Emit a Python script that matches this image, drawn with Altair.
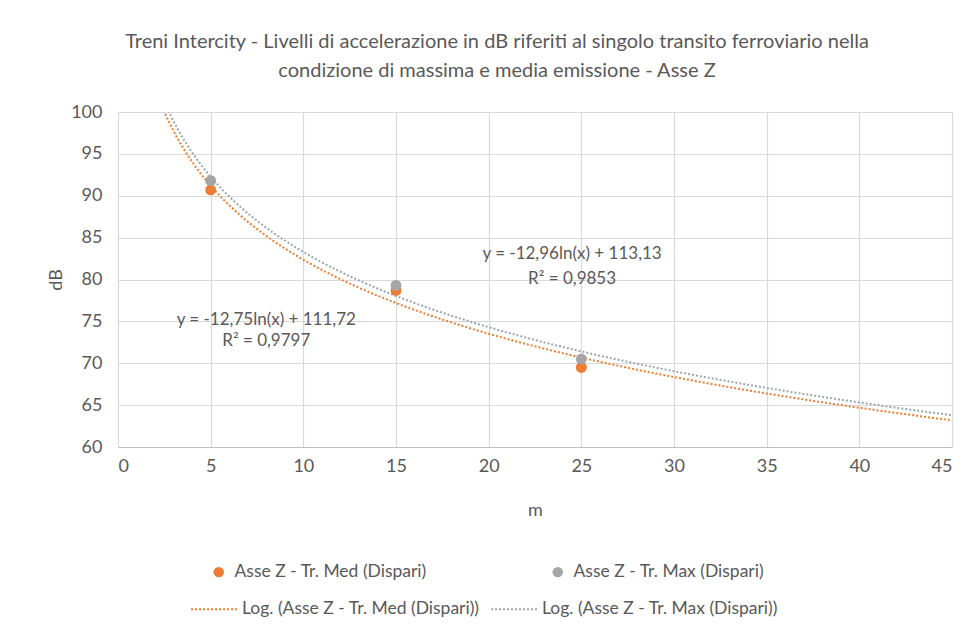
import altair as alt
import pandas as pd

# Measured acceleration levels (dB) at each distance from the track (m)
distances = [5, 15, 25]
med_db = [90.7, 78.7, 69.5]
max_db = [91.8, 79.3, 70.5]

point_series = ["Asse Z - Tr. Med (Dispari)", "Asse Z - Tr. Max (Dispari)"]
trend_series = ["Log. (Asse Z - Tr. Med (Dispari))", "Log. (Asse Z - Tr. Max (Dispari))"]

# Logarithmic trend lines: y = slope * ln(x) + intercept
trend_slope = [-12.75, -12.96]
trend_intercept = [111.72, 113.13]
trend_r2 = [0.9797, 0.9853]

x_ticks = [0, 5, 10, 15, 20, 25, 30, 35, 40, 45]
y_ticks = [60, 65, 70, 75, 80, 85, 90, 95, 100]

ORANGE = "#ED7D31"
GREY = "#A5A5A5"
GREY_TREND = "#9DA5B0"
TEXT = "#595959"
FONT = "Lato"

points = pd.DataFrame({
    "m": distances * 2,
    "dB": med_db + max_db,
    "serie": [point_series[0]] * 3 + [point_series[1]] * 3,
})

def it_num(v, nd=2):
    return f"{v:.{nd}f}".replace(".", ",")

# Equation labels placed next to each trend line (position in data units)
labels = pd.DataFrame({
    "m": [8.0, 8.0, 24.5, 24.5],
    "dB": [75.2, 72.6, 83.0, 80.1],
    "txt": [
        f"y = {it_num(trend_slope[0])}ln(x) + {it_num(trend_intercept[0])}",
        f"R² = {it_num(trend_r2[0], 4)}",
        f"y = {it_num(trend_slope[1])}ln(x) + {it_num(trend_intercept[1])}",
        f"R² = {it_num(trend_r2[1], 4)}",
    ],
})

x_scale = alt.Scale(domain=[0, 45], nice=False, zero=False)
y_scale = alt.Scale(domain=[60, 100], nice=False, zero=False)

x_enc = alt.X("m:Q", scale=x_scale, title="m",
              axis=alt.Axis(values=x_ticks, grid=True, ticks=False, labelPadding=10,
                            titlePadding=26, domainColor="#BFBFBF"))
y_enc = alt.Y("dB:Q", scale=y_scale, title="dB",
              axis=alt.Axis(values=y_ticks, grid=True, ticks=False, labelPadding=16,
                            titlePadding=5, domain=False))

trend = (
    alt.Chart(alt.sequence(2.0, 45.01, 0.1, as_="m"))
    .transform_calculate(
        med=f"{trend_slope[0]} * log(datum.m) + {trend_intercept[0]}",
        mx=f"{trend_slope[1]} * log(datum.m) + {trend_intercept[1]}",
    )
    .transform_fold(["med", "mx"], as_=["key", "dB"])
    .transform_calculate(
        trend=f"datum.key == 'med' ? '{trend_series[0]}' : '{trend_series[1]}'"
    )
    .mark_line(strokeDash=[2, 2], strokeWidth=2, clip=True)
    .encode(
        x=x_enc,
        y=y_enc,
        detail="trend:N",
        color=alt.Color(
            "trend:N",
            scale=alt.Scale(domain=trend_series, range=[ORANGE, GREY_TREND]),
            legend=alt.Legend(
                title=None, orient="none", direction="horizontal",
                legendX=72, legendY=473, symbolType="stroke", symbolSize=2100,
                symbolDash=[2, 2], symbolStrokeWidth=2, labelOffset=4,
                columnPadding=7, labelFontSize=17.5, labelFont=FONT,
                labelColor=TEXT, labelLimit=400,
            ),
        ),
    )
)

dots = (
    alt.Chart(points)
    .mark_circle(size=120, opacity=1)
    .encode(
        x=x_enc,
        y=y_enc,
        color=alt.Color(
            "serie:N",
            scale=alt.Scale(domain=point_series, range=[ORANGE, GREY]),
            legend=alt.Legend(
                title=None, orient="none", direction="horizontal",
                legendX=92, legendY=451, symbolType="circle", symbolSize=110,
                labelOffset=7, columnPadding=122, labelFontSize=17.5,
                labelFont=FONT, labelColor=TEXT, labelLimit=400,
            ),
        ),
        order=alt.Order("serie:N", sort="descending"),
    )
)

eq_text = (
    alt.Chart(labels)
    .mark_text(font=FONT, fontSize=17, color=TEXT, align="center", baseline="middle")
    .encode(x=alt.X("m:Q", scale=x_scale), y=alt.Y("dB:Q", scale=y_scale), text="txt:N")
)

chart = (
    alt.layer(trend, dots, eq_text)
    .resolve_scale(color="independent")
    .properties(
        width=834,
        height=335,
        title=alt.TitleParams(
            text=[
                "Treni Intercity - Livelli di accelerazione in dB riferiti al singolo transito ferroviario nella",
                "condizione di massima e media emissione - Asse Z",
            ],
            anchor="middle", frame="group", dx=-38, offset=22,
            font=FONT, fontSize=20, fontWeight="normal", color=TEXT, lineHeight=29,
        ),
        autosize=alt.AutoSizeParams(type="none"),
        padding={"left": 118, "top": 112, "right": 22, "bottom": 185},
    )
    .configure_view(stroke=None)
    .configure_axis(
        gridColor="#D9D9D9", gridWidth=1.2, labelFont=FONT, titleFont=FONT,
        labelFontSize=18, titleFontSize=18, labelColor=TEXT, titleColor=TEXT,
        titleFontWeight="normal",
    )
)

chart.save("out.html", embed_options={"renderer": "svg", "actions": False})
